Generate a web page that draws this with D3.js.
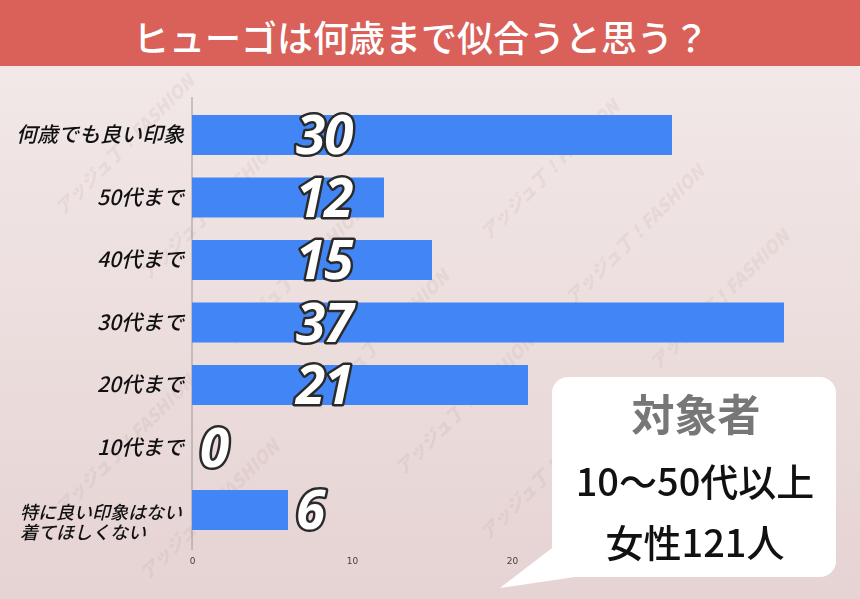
<!DOCTYPE html>
<html><head><meta charset="utf-8">
<script src="https://cdn.jsdelivr.net/npm/d3@7"></script>
<style>html,body{margin:0;padding:0;}svg{display:block;}</style>
</head><body>
<svg id="chart" width="860" height="599"></svg>
<script>
const title = "ヒューゴは何歳まで似合うと思う？";
const categories = ["何歳でも良い印象","50代まで","40代まで","30代まで","20代まで","10代まで","特に良い印象はない\n着てほしくない"];
const values = [30, 12, 15, 37, 21, 0, 6];
const tickValues = [0, 10, 20];
const calloutLines = ["対象者", "10～50代以上", "女性121人"];
const watermark = "アッジュ丁！FASHION";

const W = 860, H = 599;
const svg = d3.select("#chart");
const defs = svg.append("defs");
const grad = defs.append("linearGradient").attr("id","bg").attr("x1",0).attr("y1",0).attr("x2",0).attr("y2",1);
grad.append("stop").attr("offset","0%").attr("stop-color","#f3ebea");
grad.append("stop").attr("offset","100%").attr("stop-color","#e6d3d3");
svg.append("rect").attr("width",W).attr("height",H).attr("fill","url(#bg)");

// watermark (faint diagonal strips, fully inside the canvas)
const wm = svg.append("g").attr("opacity",0.07);
const half = 75;
for (let k = 0; k < 12; k++) {
  for (let j = -4; j < 8; j++) {
    const cx = 40 + j*170 + (k%2)*85, cy = 80 + k*150 - j*170 - (k%2)*85;
    if (cx - half < 0 || cx + half > W || cy - half < 70 || cy + half > H) continue;
    wm.append("text").attr("transform",`translate(${cx},${cy}) rotate(-45)`)
      .attr("text-anchor","middle").attr("dy","0.35em")
      .attr("font-family","'Noto Sans CJK JP', sans-serif").attr("font-weight",900)
      .attr("font-style","italic").attr("font-size",18).attr("fill","#7a5050")
      .text(watermark);
  }
}

// title bar
svg.append("rect").attr("x",0).attr("y",0).attr("width",W).attr("height",66).attr("fill","#d9615a");
svg.append("text").attr("x",421).attr("y",52).attr("text-anchor","middle")
  .attr("font-family","'Noto Sans CJK JP', sans-serif").attr("font-weight",500)
  .attr("font-size",36).attr("fill","#fff").text(title);

const x = d3.scaleLinear().domain([0, 10]).range([192, 352]);
const y = d3.scaleBand().domain(categories).range([103.75, 541.25]).paddingInner(0.36).paddingOuter(0.18);

// axis
const axis = d3.axisBottom(x).tickValues(tickValues).tickSize(0).tickPadding(0);
const ag = svg.append("g").attr("transform","translate(0,558)").call(axis);
ag.select(".domain").remove();
ag.selectAll("text").attr("font-family","'DejaVu Sans', sans-serif").attr("font-size",9).attr("fill","#444").attr("dy","0.71em");
svg.append("line").attr("x1",x(0)).attr("x2",x(0)).attr("y1",97).attr("y2",550).attr("stroke","#9a9a9a").attr("stroke-width",1);

// bars
svg.append("g").selectAll("rect").data(values).join("rect")
  .attr("x", x(0)).attr("y",(d,i)=>y(categories[i]))
  .attr("width", d=>x(d)-x(0)).attr("height", y.bandwidth())
  .attr("fill","#4285f4");

// category labels
const lg = svg.append("g").attr("font-family","'Noto Sans CJK JP', sans-serif").attr("font-style","italic")
  .attr("font-weight",500).attr("fill","#111");
categories.forEach((c,i)=>{
  const cy = y(c) + y.bandwidth()/2;
  const lines = c.split("\n");
  if (lines.length === 1) {
    lg.append("text").attr("x",184).attr("y",cy+7).attr("text-anchor","end").attr("font-size",21).text(c);
  } else {
    lines.forEach((l,j)=>{
      lg.append("text").attr("x",20).attr("y",cy + 9 + j*20).attr("text-anchor","start").attr("font-size",18).text(l);
    });
  }
});

// value labels
const vg = svg.append("g");
values.forEach((v,i)=>{
  const cy = y(categories[i]) + y.bandwidth()/2;
  const lx = Math.min(x(v), x(6)) + 8;
  vg.append("text").attr("x",lx).attr("y",cy+19)
    .attr("font-family","'Open Sans', 'Noto Sans', sans-serif").attr("font-weight",700).attr("font-style","italic")
    .attr("font-size",53).attr("letter-spacing",-1)
    .attr("fill","#fff").attr("stroke","#2a2a2a").attr("stroke-width",5).attr("stroke-linejoin","round")
    .attr("paint-order","stroke").text(v);
});

// callout
const cg = svg.append("g");
cg.append("path").attr("d","M556,545 L500,588 L575,577 Z").attr("fill","#fff");
cg.append("rect").attr("x",552).attr("y",377).attr("width",284).attr("height",200).attr("rx",16).attr("fill","#fff");
const cfont = "'Noto Sans CJK JP', sans-serif";
cg.append("text").attr("x",696).attr("y",431).attr("text-anchor","middle").attr("font-family",cfont)
  .attr("font-weight",700).attr("font-size",43).attr("fill","#777").text(calloutLines[0]);
cg.append("text").attr("x",695).attr("y",496).attr("text-anchor","middle").attr("font-family",cfont)
  .attr("font-weight",500).attr("font-size",38).attr("fill","#111").text(calloutLines[1]);
cg.append("text").attr("x",695).attr("y",557).attr("text-anchor","middle").attr("font-family",cfont)
  .attr("font-weight",500).attr("font-size",38).attr("fill","#111").text(calloutLines[2]);
</script>
</body></html>
